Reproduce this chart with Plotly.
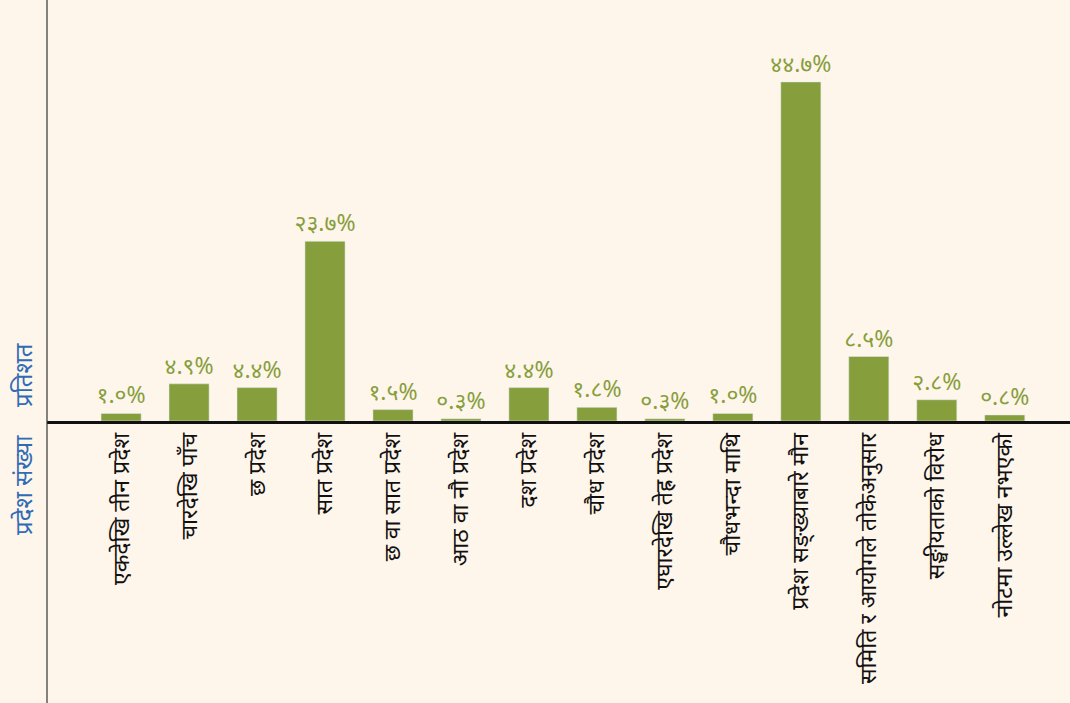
import plotly.graph_objects as go

categories = [
    "एकदेखि तीन प्रदेश",
    "चारदेखि पाँच",
    "छ प्रदेश",
    "सात प्रदेश",
    "छ वा सात प्रदेश",
    "आठ वा नौ प्रदेश",
    "दश प्रदेश",
    "चौध प्रदेश",
    "एघारदेखि तेह्र प्रदेश",
    "चौधभन्दा माथि",
    "प्रदेश सङ्ख्याबारे मौन",
    "समिति र आयोगले तोकेअनुसार",
    "सङ्घीयताको विरोध",
    "नोटमा उल्लेख नभएको",
]
values = [1.0, 4.9, 4.4, 23.7, 1.5, 0.3, 4.4, 1.8, 0.3, 1.0, 44.7, 8.5, 2.8, 0.8]

DEV_DIGITS = str.maketrans("0123456789", "०१२३४५६७८९")
labels = [f"{v:.1f}%".translate(DEV_DIGITS) for v in values]

BG = "#fef5eb"
GREEN = "#879e3d"
BLUE = "#2f6cb5"

W, H = 1070, 703
TOP, BOTTOM_MARGIN, LEFT = 0, 282, 47
plot_h = H - TOP - BOTTOM_MARGIN

fig = go.Figure(go.Bar(
    x=categories,
    y=values,
    width=0.59,
    marker_color=GREEN,
    text=labels,
    textposition="outside",
    constraintext="none",
    textfont=dict(color=GREEN, size=23),
    cliponaxis=False,
))

fig.update_layout(
    width=W, height=H,
    paper_bgcolor=BG, plot_bgcolor=BG,
    margin=dict(l=LEFT, r=0, t=TOP, b=BOTTOM_MARGIN, pad=0),
    showlegend=False,
    font=dict(family="Noto Sans, DejaVu Sans, sans-serif", color="#111"),
    xaxis=dict(
        range=[-1.09, 13.96],
        showline=True, linecolor="#111", linewidth=2.5,
        ticks="", tickangle=-90,
        tickfont=dict(size=23, color="#111"),
        showgrid=False,
    ),
    yaxis=dict(
        range=[0, 55.5],
        showticklabels=False, showgrid=False, zeroline=False,
        showline=False, ticks="",
    ),
    bargap=0.4,
)

# vertical axis line running through the whole height
fig.add_shape(type="line", xref="paper", yref="paper",
              x0=0, x1=0, y0=-BOTTOM_MARGIN / plot_h, y1=1,
              line=dict(color="#333", width=1.2))

fig.add_annotation(text="प्रतिशत", xref="paper", yref="paper",
                   x=-25 / (W - LEFT), y=(plot_h - 375) / plot_h,
                   textangle=-90, showarrow=False,
                   font=dict(size=24, color=BLUE), xanchor="center", yanchor="middle")
fig.add_annotation(text="प्रदेश संख्या", xref="paper", yref="paper",
                   x=-25 / (W - LEFT), y=(plot_h - 485) / plot_h,
                   textangle=-90, showarrow=False,
                   font=dict(size=24, color=BLUE), xanchor="center", yanchor="middle")

fig.write_html("out.html",
               config={"displayModeBar": False},
               post_script="document.body.style.margin='0';"
                           "document.body.style.background='#fef5eb';")
